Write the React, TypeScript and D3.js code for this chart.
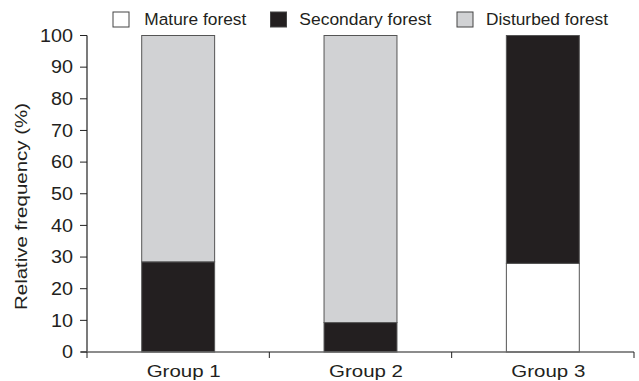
import React from "react";
import * as d3 from "d3";

const groups = ["Group 1", "Group 2", "Group 3"];
const seriesNames = ["Mature forest", "Secondary forest", "Disturbed forest"];
const mature = [0, 0, 28];
const secondary = [28.5, 9.3, 72];
const disturbed = [71.5, 90.7, 0];
const yTicks = [0, 10, 20, 30, 40, 50, 60, 70, 80, 90, 100];
const colors = ["#ffffff", "#231f20", "#d1d2d4"];

export default function App() {
  const W = 639, H = 381;
  const x0 = 87, x1 = 634, yBottom = 352, yTop = 35.5;
  const x = d3.scaleBand<string>().domain(groups).range([x0, x1]).paddingInner(0.6).paddingOuter(0.3);
  const y = d3.scaleLinear().domain([0, 100]).range([yBottom, yTop]);
  const rows = groups.map((g, i) => ({ group: g, m: mature[i], s: secondary[i], d: disturbed[i] }));
  const stack = d3.stack<any>().keys(["m", "s", "d"])(rows);
  const step = (x1 - x0) / groups.length;
  const font = "'Liberation Sans', Arial, sans-serif";
  const legendBoxX = [113, 270.5, 457];
  const legendTextX = [144.3, 299.3, 486];
  const legendLen = [102, 132, 122];
  const ink = "#231f20";
  return (
    <svg width={W} height={H} style={{ position: "absolute", left: 0, top: 0 }} fontFamily={font}>
      {stack.map((layer, li) =>
        layer.map((d, i) =>
          d[1] - d[0] > 0 ? (
            <rect key={`${li}-${i}`} x={x(groups[i])} width={x.bandwidth()} y={y(d[1])} height={y(d[0]) - y(d[1])}
              fill={colors[li]} stroke="#555" strokeWidth={1} />
          ) : null
        )
      )}
      <line x1={x0} x2={x0} y1={yTop} y2={yBottom} stroke="#222" strokeWidth={1.2} />
      <line x1={81} x2={x1} y1={yBottom} y2={yBottom} stroke="#666" strokeWidth={1.5} />
      {yTicks.map((t) => (
        <g key={t}>
          <line x1={80} x2={x0} y1={y(t)} y2={y(t)} stroke="#222" strokeWidth={1} />
          <text x={73} y={y(t)} dy="0.36em" textAnchor="end" fontSize={17.5} fill={ink}
            textLength={String(t).length * 11} lengthAdjust="spacingAndGlyphs">{t}</text>
        </g>
      ))}
      {[0, 1, 2, 3].map((i) => (
        <line key={i} x1={x0 + i * step} x2={x0 + i * step} y1={yBottom} y2={yBottom + 6} stroke="#222" strokeWidth={1} />
      ))}
      {groups.map((g) => (
        <text key={g} x={(x(g) as number) + x.bandwidth() / 2 + 5.5} y={377} textAnchor="middle" fontSize={17} fill={ink}
          textLength={74} lengthAdjust="spacingAndGlyphs">{g}</text>
      ))}
      <text transform={`translate(27,206.5) rotate(-90)`} textAnchor="middle" fontSize={16.5} fill={ink}
        textLength={207} lengthAdjust="spacingAndGlyphs">Relative frequency (%)</text>
      {seriesNames.map((n, i) => (
        <g key={n}>
          <rect x={legendBoxX[i]} y={12} width={16} height={15} fill={colors[i]} stroke="#444" strokeWidth={1} />
          <text x={legendTextX[i]} y={25} fontSize={16.3} fill={ink}
            textLength={legendLen[i]} lengthAdjust="spacingAndGlyphs">{n}</text>
        </g>
      ))}
    </svg>
  );
}
